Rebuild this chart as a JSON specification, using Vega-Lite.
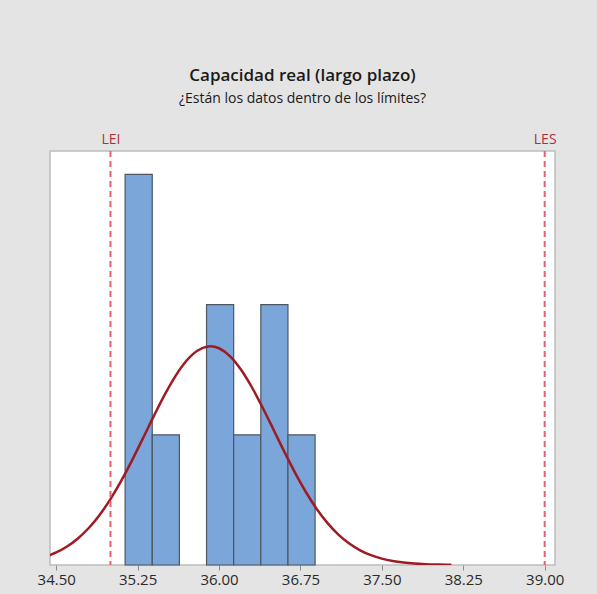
{
  "$schema": "https://vega.github.io/schema/vega-lite/v6.json",
  "width": 505,
  "height": 414,
  "autosize": "none",
  "padding": {"left": 50, "top": 151, "right": 42, "bottom": 29},
  "background": "#e4e4e4",
  "title": {
    "text": "Capacidad real (largo plazo)",
    "subtitle": "¿Están los datos dentro de los límites?",
    "font": "Open Sans",
    "fontSize": 17,
    "fontWeight": 600,
    "color": "#1a1a1a",
    "subtitleFont": "Open Sans",
    "subtitleFontSize": 14,
    "subtitleColor": "#1a1a1a",
    "subtitlePadding": 7,
    "anchor": "middle",
    "offset": 25
  },
  "resolve": {"axis": {"x": "independent"}},
  "layer": [
    {
      "data": {"values": [
        {"bin_start": 35.135, "bin_end": 35.385, "count": 3},
        {"bin_start": 35.385, "bin_end": 35.635, "count": 1},
        {"bin_start": 35.885, "bin_end": 36.135, "count": 2},
        {"bin_start": 36.135, "bin_end": 36.385, "count": 1},
        {"bin_start": 36.385, "bin_end": 36.635, "count": 2},
        {"bin_start": 36.635, "bin_end": 36.885, "count": 1}
      ]},
      "mark": {"type": "rect", "fill": "#7ba6d9", "stroke": "#4f5660", "strokeWidth": 1.2},
      "encoding": {
        "x": {"field": "bin_start", "type": "quantitative",
          "scale": {"domain": [34.443, 39.095], "nice": false, "zero": false},
          "axis": {"orient": "bottom", "title": null, "values": [34.5, 35.25, 36, 36.75, 37.5, 38.25, 39],
            "format": ".2f", "grid": false, "domain": false, "tickColor": "#8a8a8a", "tickSize": 5,
            "labelFont": "Open Sans", "labelFontSize": 15, "labelColor": "#2a2a2a", "labelPadding": 2}},
        "x2": {"field": "bin_end"},
        "y": {"field": "count", "type": "quantitative",
          "scale": {"domain": [0, 3.18], "nice": false}, "axis": null},
        "y2": {"datum": 0}
      }
    },
    {
      "data": {"values": [
        {"x": 34.44, "d": 0.0754}, {"x": 34.5, "d": 0.0965}, {"x": 34.6, "d": 0.1422},
        {"x": 34.7, "d": 0.2039}, {"x": 34.8, "d": 0.284}, {"x": 34.9, "d": 0.3846},
        {"x": 35.0, "d": 0.5063}, {"x": 35.1, "d": 0.6479}, {"x": 35.2, "d": 0.8059},
        {"x": 35.3, "d": 0.9744}, {"x": 35.4, "d": 1.1452}, {"x": 35.5, "d": 1.3084},
        {"x": 35.6, "d": 1.4531}, {"x": 35.7, "d": 1.5686}, {"x": 35.8, "d": 1.6461},
        {"x": 35.9, "d": 1.679}, {"x": 35.92, "d": 1.68}, {"x": 36.0, "d": 1.6648},
        {"x": 36.1, "d": 1.6046}, {"x": 36.2, "d": 1.5033}, {"x": 36.3, "d": 1.3692},
        {"x": 36.4, "d": 1.212}, {"x": 36.5, "d": 1.043}, {"x": 36.6, "d": 0.8724},
        {"x": 36.7, "d": 0.7094}, {"x": 36.8, "d": 0.5607}, {"x": 36.9, "d": 0.4308},
        {"x": 37.0, "d": 0.3217}, {"x": 37.1, "d": 0.2336}, {"x": 37.2, "d": 0.1648},
        {"x": 37.3, "d": 0.1131}, {"x": 37.4, "d": 0.0754}, {"x": 37.5, "d": 0.0489},
        {"x": 37.6, "d": 0.0308}, {"x": 37.7, "d": 0.0189}, {"x": 37.8, "d": 0.0112},
        {"x": 37.9, "d": 0.0065}, {"x": 38.0, "d": 0.0037}, {"x": 38.1, "d": 0.002},
        {"x": 38.14, "d": 0.0016}
      ]},
      "mark": {"type": "line", "color": "#9e1b22", "strokeWidth": 2.5, "interpolate": "monotone", "clip": true},
      "encoding": {
        "x": {"field": "x", "type": "quantitative", "axis": null},
        "y": {"field": "d", "type": "quantitative"}
      }
    },
    {
      "data": {"values": [{"limit": 35, "name": "LEI"}, {"limit": 39, "name": "LES"}]},
      "mark": {"type": "rule", "color": "#e8606b", "strokeWidth": 2, "strokeDash": [6, 4]},
      "encoding": {
        "x": {"field": "limit", "type": "quantitative",
          "axis": {"orient": "top", "title": null, "values": [35, 39],
            "labelExpr": "datum.value == 35 ? 'LEI' : 'LES'",
            "grid": false, "domain": false, "ticks": false, "labelPadding": 5,
            "labelFont": "Open Sans", "labelFontSize": 14, "labelFontWeight": 500, "labelColor": "#a8323e"}}
      }
    }
  ],
  "config": {
    "view": {"stroke": "#bdbdbd", "strokeWidth": 1.5, "fill": "white"}
  }
}
